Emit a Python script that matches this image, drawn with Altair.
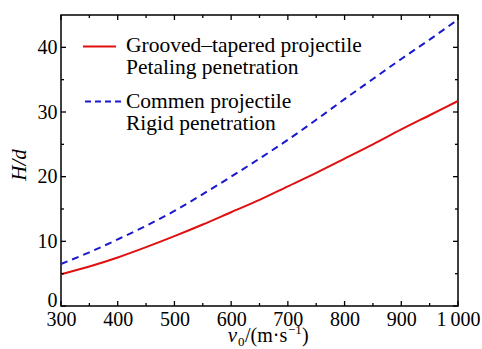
import altair as alt
import pandas as pd

# Penetration depth H/d versus impact velocity v0
velocity = [300, 350, 400, 450, 500, 550, 600, 650, 700, 750, 800, 850, 900, 950, 1000]
grooved_tapered = [4.9, 6.1, 7.5, 9.1, 10.8, 12.6, 14.5, 16.4, 18.5, 20.6, 22.8, 25.0, 27.3, 29.5, 31.7]
common = [6.5, 8.3, 10.3, 12.4, 14.7, 17.3, 20.0, 22.8, 25.7, 28.8, 32.0, 35.1, 38.2, 41.2, 44.3]

legend_lines = [
    ["Grooved\u2013tapered projectile", "Petaling penetration"],
    ["Commen projectile", "Rigid penetration"],
]

x_major = [300, 400, 500, 600, 700, 800, 900, 1000]
x_minor = [350, 450, 550, 650, 750, 850, 950]
y_major = [0, 10, 20, 30, 40]
y_minor = [5, 15, 25, 35]

FONT = "Liberation Serif, Times New Roman, Times, serif"
RED = "#e01010"
BLUE = "#1818cc"
W, H = 397, 291

xs = alt.Scale(domain=[300, 1000], nice=False, zero=False)
ys = alt.Scale(domain=[0, 45], nice=False, zero=True)

x_axis = alt.Axis(values=x_major, ticks=False, domain=False, grid=False,
                  labelFont=FONT, labelFontSize=20, labelColor="black",
                  labelPadding=3, labelFlush=False, labelOverlap=False,
                  labelBound=False, title=None,
                  labelExpr="datum.value == 1000 ? '1\u2009000' : datum.label")
y_axis = alt.Axis(values=y_major, ticks=False, domain=False, grid=False,
                  labelFont=FONT, labelFontSize=20, labelColor="black",
                  labelPadding=4, labelFlush=False, labelOverlap=False,
                  labelBaseline={"condition": {"test": "datum.value == 0", "value": "alphabetic"},
                                 "value": "middle"},
                  title=None)

X = alt.X("x:Q", scale=xs, axis=x_axis)
Y = alt.Y("y:Q", scale=ys, axis=y_axis)

red_df = pd.DataFrame({"x": velocity, "y": grooved_tapered})
blue_df = pd.DataFrame({"x": velocity, "y": common})

red_line = alt.Chart(red_df).mark_line(
    color=RED, strokeWidth=2, interpolate="monotone"
).encode(x=X, y=Y)

blue_line = alt.Chart(blue_df).mark_line(
    color=BLUE, strokeWidth=2, strokeDash=[7, 5], interpolate="monotone"
).encode(x=X, y=Y)


def x_ticks(vals, length):
    d = pd.DataFrame({"x": vals})
    bottom = alt.Chart(d).mark_rule(color="black", strokeWidth=1.3).encode(
        x=X, y=alt.value(H), y2=alt.value(H - length))
    top = alt.Chart(d).mark_rule(color="black", strokeWidth=1.3).encode(
        x=X, y=alt.value(0), y2=alt.value(length))
    return [bottom, top]


def y_ticks(vals, length):
    d = pd.DataFrame({"y": vals})
    left = alt.Chart(d).mark_rule(color="black", strokeWidth=1.3).encode(
        y=Y, x=alt.value(0), x2=alt.value(length))
    right = alt.Chart(d).mark_rule(color="black", strokeWidth=1.3).encode(
        y=Y, x=alt.value(W), x2=alt.value(W - length))
    return [left, right]


def text(t, x, y, size=21.5, style="normal", align="left", baseline="middle", angle=None):
    kw = dict(font=FONT, fontSize=size, fontStyle=style, align=align,
              baseline=baseline, color="black")
    if angle is not None:
        kw["angle"] = angle
    return alt.Chart(pd.DataFrame({"t": [t]})).mark_text(**kw).encode(
        text="t:N", x=alt.value(x), y=alt.value(y))


def swatch(color, y, x1, x2, dash=None):
    kw = dict(color=color, strokeWidth=2)
    if dash:
        kw["strokeDash"] = dash
    return alt.Chart(pd.DataFrame({"k": [color]})).mark_rule(**kw).encode(
        x=alt.value(x1), x2=alt.value(x2), y=alt.value(y))


layers = [red_line, blue_line]
layers += x_ticks(x_major, 5) + x_ticks(x_minor, 3)
layers += y_ticks(y_major, 5) + y_ticks(y_minor, 3)

# legend
layers += [
    swatch(RED, 31.5, 22, 55),
    text(legend_lines[0][0], 65, 30.5),
    text(legend_lines[0][1], 65, 52.5),
    swatch(BLUE, 86.5, 24, 60, dash=[6, 4]),
    text(legend_lines[1][0], 65, 86.5),
    text(legend_lines[1][1], 65, 108.5),
]

# axis titles
layers += [
    text("H/d", -41, 150, size=21, style="italic", align="center", angle=270),
    text("v", 176, 327, size=21, style="italic", align="right", baseline="alphabetic"),
    text("0", 177, 331, size=13, baseline="alphabetic"),
    text("/(m\u00b7s", 184, 327, size=20, baseline="alphabetic"),
    text("\u22121", 227, 319, size=13, baseline="alphabetic"),
    text(")", 241, 327, size=20, baseline="alphabetic"),
]

chart = alt.layer(*layers).properties(
    width=W, height=H,
    autosize=alt.AutoSizeParams(type="none"),
    padding={"left": 61, "top": 15, "right": 24, "bottom": 43},
    background="white",
).configure_view(stroke="black", strokeWidth=1.5)

chart.save("out.html", embed_options={"renderer": "svg", "actions": False})
